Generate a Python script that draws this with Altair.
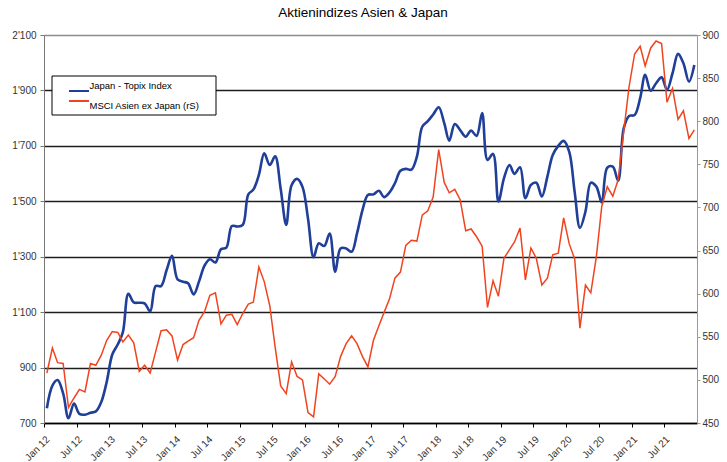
import altair as alt
import pandas as pd

# ---------------- data ----------------
months = pd.date_range("2012-01-01", periods=120, freq="MS")
dates = [(m + pd.Timedelta(days=16)).strftime("%Y-%m-%dT00:00:00") for m in months]

topix = [
    753, 835, 855, 807, 717, 770, 733, 730, 737, 742, 777, 849,
    947, 984, 1027, 1166, 1135, 1134, 1132, 1103, 1194, 1194, 1252, 1303,
    1218, 1210, 1204, 1164, 1210, 1268, 1291, 1279, 1327, 1333, 1411, 1409,
    1415, 1525, 1542, 1595, 1673, 1631, 1662, 1545, 1415, 1558, 1581, 1552,
    1437, 1298, 1348, 1339, 1384, 1246, 1330, 1330, 1318, 1384, 1469, 1523,
    1525, 1538, 1515, 1532, 1565, 1610, 1617, 1614, 1661, 1769, 1789, 1813,
    1839, 1782, 1719, 1779, 1757, 1733, 1755, 1736, 1818, 1649, 1671, 1499,
    1583, 1631, 1599, 1623, 1511, 1559, 1567, 1517, 1589, 1667, 1700, 1718,
    1679, 1532, 1404, 1463, 1567, 1553, 1496, 1621, 1625, 1574, 1763, 1808,
    1811, 1872, 1956, 1899, 1926, 1947, 1902, 1962, 2032, 1998, 1932, 1992,
]

msci = [
    508, 537, 520, 519, 468, 479, 489, 486, 519, 517, 529, 546,
    556, 555, 544, 552, 543, 510, 517, 508, 533, 557, 558, 551,
    523, 541, 545, 549, 569, 579, 598, 601, 565, 575, 576, 564,
    577, 588, 590, 631, 614, 586, 538, 493, 484, 521, 504, 500,
    462, 457, 507, 501, 495, 504, 527, 542, 551, 542, 527, 515,
    546, 563, 578, 594, 618, 625, 656, 662, 661, 691, 696, 712,
    767, 729, 717, 721, 709, 673, 675, 666, 655, 584, 615, 597,
    641, 651, 660, 676, 616, 653, 641, 610, 618, 645, 647, 688,
    658, 640, 560, 610, 601, 643, 701, 724, 713, 732, 788, 840,
    878, 887, 864, 885, 893, 890, 822, 838, 802, 812, 780, 790,
]

series_names = ["Japan - Topix Index", "MSCI Asien ex Japan (rS)"]
series_colors = ["#1f3f98", "#f0441f"]
tick_years = list(range(2012, 2022))
left_ticks = [700, 900, 1100, 1300, 1500, 1700, 1900, 2100]
right_ticks = [450, 500, 550, 600, 650, 700, 750, 800, 850, 900]
title_text = "Aktienindizes Asien & Japan"

df = pd.DataFrame({"date": dates, "topix": topix, "msci": msci})
leg_df = pd.DataFrame({"name": series_names})
box_df = pd.DataFrame({"name": series_names[:1]})

FONT = "Liberation Sans"

x_ticks = [alt.DateTime(year=y, month=m, date=1) for y in tick_years for m in (1, 7)]
x_enc = alt.X(
    "date:T",
    scale=alt.Scale(domain=[alt.DateTime(year=2012, month=1, date=1),
                            alt.DateTime(year=2022, month=1, date=1)]),
    axis=alt.Axis(
        values=x_ticks, format="%b %y", labelAngle=-45, labelAlign="right",
        labelBaseline="top", title=None, grid=False,
        domainColor="#000000", domainWidth=1.5, tickColor="#000000",
        tickSize=4, labelPadding=7,
    ),
)

base = alt.Chart(df)

blue = base.mark_line(color=series_colors[0], strokeWidth=2.6,
                      interpolate="catmull-rom").encode(
    x=x_enc,
    y=alt.Y(
        "topix:Q",
        scale=alt.Scale(domain=[700, 2100], nice=False, zero=False),
        axis=alt.Axis(
            values=left_ticks, title=None,
            labelExpr="replace(format(datum.value, ','), ',', \"'\")",
            grid=True,
            gridColor={"condition": {"test": "datum.value === 2100", "value": "#8c8c8c"},
                       "value": "#1e1e1e"},
            gridWidth=1.3,
            domainColor="#777777", tickColor="#777777", tickSize=4, labelPadding=4,
        ),
    ),
)

red = base.mark_line(color=series_colors[1], strokeWidth=1.5).encode(
    x=x_enc,
    y=alt.Y(
        "msci:Q",
        scale=alt.Scale(domain=[450, 900], nice=False, zero=False),
        axis=alt.Axis(
            orient="right", values=right_ticks, title=None, grid=False,
            domainColor="#999999", tickColor="#999999", tickSize=3, labelPadding=2,
        ),
    ),
)

leg_y = alt.Y("name:N", scale=alt.Scale(domain=series_names, range=[51, 71], padding=0),
              axis=None)

box = alt.Chart(box_df).mark_rect(fill="white", stroke="black", strokeWidth=1).encode(
    x=alt.value(8), x2=alt.value(172), y=alt.value(41), y2=alt.value(80)
)
rules = alt.Chart(leg_df).mark_rule(strokeWidth=2).encode(
    x=alt.value(25), x2=alt.value(45), y=leg_y,
    color=alt.Color("name:N", scale=alt.Scale(domain=series_names, range=series_colors), legend=None),
)
texts = alt.Chart(leg_df).mark_text(align="left", baseline="middle", fontSize=9.5,
                                    font=FONT, color="#000000").encode(
    x=alt.value(45.5), y=leg_y, text="name:N"
)

chart = (
    alt.layer(blue, red, box, rules, texts)
    .resolve_scale(y="independent")
    .properties(
        width=653,
        height=388,
        title=alt.TitleParams(title_text, fontSize=13.5, fontWeight="normal", font=FONT,
                              color="#000000", offset=11, frame="group", dx=-7.5),
        autosize=alt.AutoSizeParams(type="none"),
        padding={"left": 44, "top": 35, "right": 30, "bottom": 39},
    )
    .configure_view(strokeOpacity=0)
    .configure_axis(labelFont=FONT, labelFontSize=10, labelColor="#333333")
)

chart.save("out.html", embed_options={"renderer": "svg", "actions": False})
